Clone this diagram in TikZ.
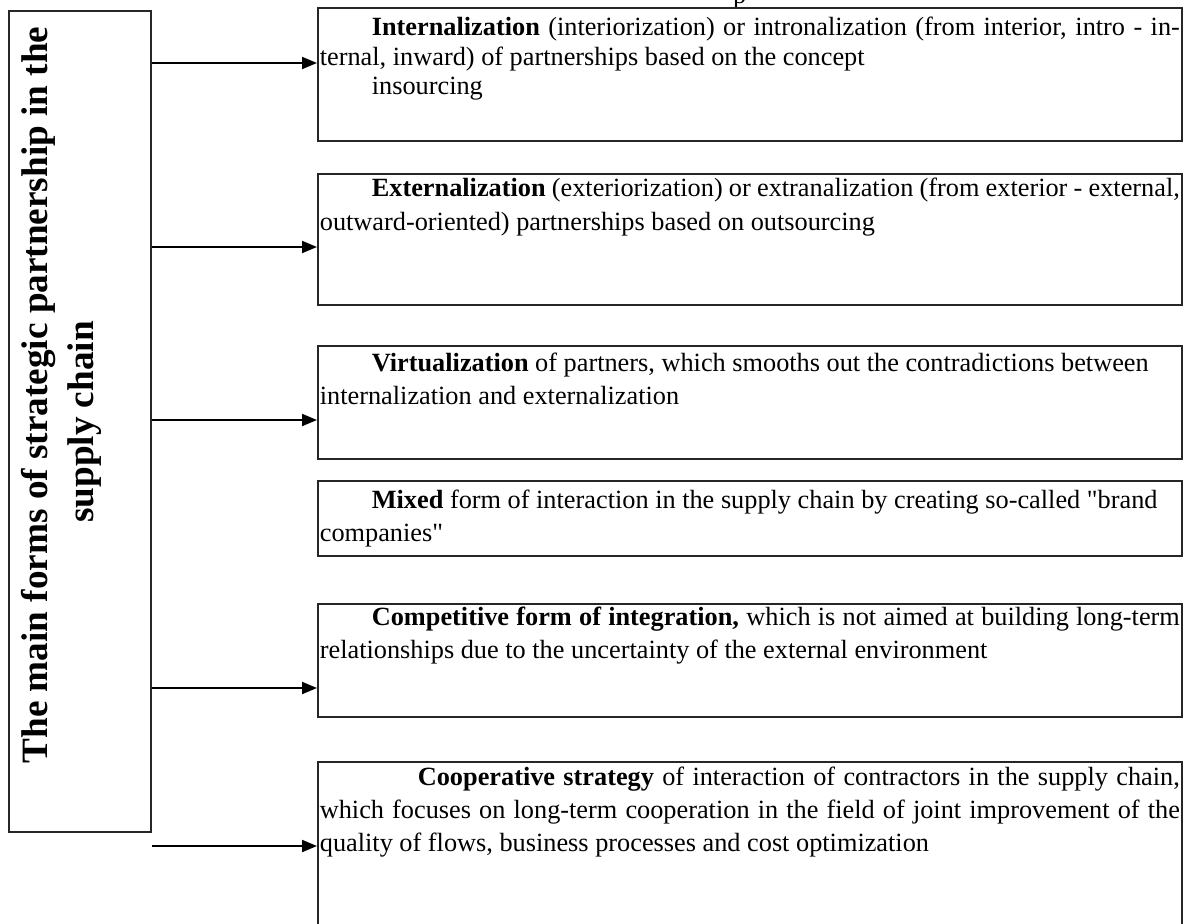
\documentclass[tikz,border=0pt]{standalone}
\usepackage{fontspec}
\setmainfont{Liberation Serif}
\usetikzlibrary{arrows.meta,calc,positioning}
\tolerance=9999
\hyphenpenalty=10000
\exhyphenpenalty=10000
\newcommand{\formfont}[1]{\fontsize{26.3pt}{#1pt}\selectfont}
\newcommand{\firstind}{\hspace*{52pt}}
\tikzset{
  >={Triangle[length=15pt,width=12pt]},
  formbox/.style={draw=black!85, line width=1.7pt, anchor=north west,
                  inner xsep=2pt, inner ysep=0pt, text width=860pt, align=justify},
  mainbox/.style={draw=black!85, line width=1.4pt, minimum width=142pt,
                  minimum height=821pt, inner sep=0pt},
  maintext/.style={rotate=90, align=center,
                   font=\fontsize{37.2pt}{46pt}\selectfont\bfseries},
  link/.style={->, line width=1.9pt},
}

\begin{document}
\begin{tikzpicture}[x=1pt,y=-1pt]
  \useasboundingbox (0,0) rectangle (1192,924);

  % cut-off letter from the line above
  \node[anchor=base west, inner sep=0pt, font=\formfont{33}] (stray) at (733,3) {p};

  % left block
  \node[mainbox] (title) at (80,421.5) {};
  \node[maintext] (titletxt) at (61.25,395)
    {The main forms of strategic partnership in the\\ supply chain\rule{54pt}{0pt}};

  % forms
  \node[formbox, font=\formfont{29.5}, text height=28pt, text depth=105pt] (b1) at (317,7)
    {\firstind\textbf{Internalization} (interiorization) or intronalization (from interior, intro - in-\linebreak
     ternal, inward) of partnerships based on the concept\\
     \firstind insourcing};
  \node[formbox, font=\formfont{34}, text height=23pt, text depth=108pt] (b2) at (317,173)
    {\firstind\textbf{Externalization} (exteriorization) or extranalization (from exterior - external,\linebreak
     outward-oriented) partnerships based on outsourcing};
  \node[formbox, font=\formfont{33}, text height=26pt, text depth=87pt] (b3) at (317,345)
    {\firstind\textbf{Virtualization} of partners, which smooths out the contradictions between\\
     internalization and externalization};
  \node[formbox, font=\formfont{33}, text height=28pt, text depth=47pt] (b4) at (317,480)
    {\firstind\textbf{Mixed} form of interaction in the supply chain by creating so-called \textquotedbl brand\\
     companies\textquotedbl};
  \node[formbox, font=\formfont{33}, text height=22pt, text depth=91pt] (b5) at (317,603)
    {\firstind\textbf{Competitive form of integration,} which is not aimed at building long-term\linebreak
     relationships due to the uncertainty of the external environment};
  \node[formbox, font=\formfont{33}, text height=24pt, text depth=141pt] (b6) at (317,761)
    {\hspace*{98pt}\textbf{Cooperative strategy} of interaction of contractors in the supply chain,\linebreak
     which focuses on long-term cooperation in the field of joint improvement of the\linebreak
     quality of flows, business processes and cost optimization};

  % arrows
  \coordinate (a1) at ($(b1.north west)+(0,56)$);
  \coordinate (a2) at ($(b2.north west)+(0,74)$);
  \coordinate (a3) at ($(b3.north west)+(0,75)$);
  \coordinate (a5) at ($(b5.north west)+(0,85)$);
  \coordinate (a6) at ($(b6.north west)+(0,85)$);
  \foreach \p in {a1,a2,a3,a5,a6}
    \draw[link] (\p -| title.east) -- (\p);

\end{tikzpicture}
\end{document}
